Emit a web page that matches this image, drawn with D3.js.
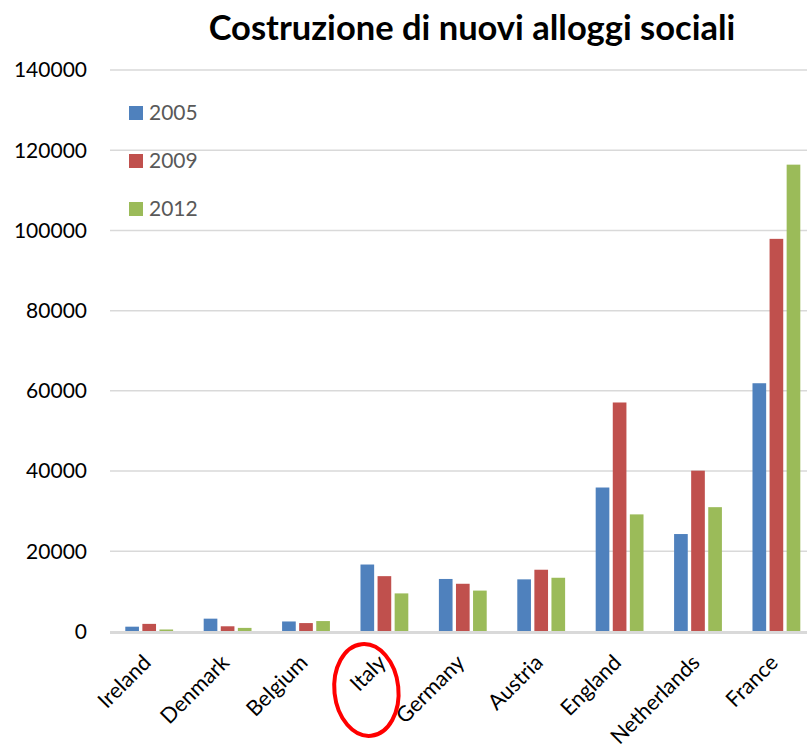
<!DOCTYPE html>
<html><head><meta charset="utf-8">
<script src="https://cdn.jsdelivr.net/npm/d3@7"></script>
<style>body{margin:0;background:#fff}svg{display:block}</style>
</head><body><svg id="c" width="807" height="748"></svg>
<script>
const categories = ["Ireland","Denmark","Belgium","Italy","Germany","Austria","England","Netherlands","France"];
const seriesNames = ["2005","2009","2012"];
const v2005 = [1200, 3200, 2500, 16700, 13100, 13000, 35900, 24300, 61900];
const v2009 = [1900, 1300, 2100, 13800, 11900, 15400, 57100, 40100, 97900];
const v2012 = [500, 900, 2600, 9500, 10200, 13400, 29200, 31000, 116400];
const yTicks = [0, 20000, 40000, 60000, 80000, 100000, 120000, 140000];
const colors = ["#4F81BD", "#C0504D", "#9BBB59"];
const title = "Costruzione di nuovi alloggi sociali";
const highlighted = "Italy";

const series = [v2005, v2009, v2012];
const svg = d3.select("#c");
const font = "Lato, 'Open Sans', sans-serif";

const x0 = d3.scaleBand().domain(categories).range([110, 815.6]).paddingInner(0.39).paddingOuter(0.195);
const x1 = d3.scaleBand().domain(seriesNames).range([0, x0.bandwidth()]).paddingInner(0.2);
const y = d3.scaleLinear().domain([0, 140000]).range([631.5, 70]);

// gridlines
svg.append("g").selectAll("line").data(yTicks.filter(d => d > 0)).join("line")
  .attr("x1", 110).attr("x2", 807).attr("y1", d => y(d)).attr("y2", d => y(d))
  .attr("stroke", "#d9d9d9").attr("stroke-width", 1.5);

// y labels
svg.append("g").selectAll("text").data(yTicks).join("text")
  .attr("x", 87).attr("y", d => y(d)).attr("dy", "0.35em")
  .attr("text-anchor", "end").attr("font-family", font).attr("font-size", 21)
  .attr("fill", "#000").text(d => d);

// bars
const groups = svg.append("g").selectAll("g").data(categories).join("g")
  .attr("transform", d => `translate(${x0(d)},0)`);
groups.selectAll("rect").data((d, i) => seriesNames.map((s, j) => ({s, v: series[j][i], j})))
  .join("rect")
  .attr("x", d => x1(d.s)).attr("width", x1.bandwidth())
  .attr("y", d => y(d.v)).attr("height", d => y(0) - y(d.v))
  .attr("fill", d => colors[d.j]);

// baseline
svg.append("line").attr("x1", 110).attr("x2", 807).attr("y1", y(0) + 1).attr("y2", y(0) + 1)
  .attr("stroke", "#d9d9d9").attr("stroke-width", 3);

// x labels
svg.append("g").selectAll("text").data(categories).join("text")
  .attr("transform", d => `translate(${x0(d) + x0.bandwidth() / 2 + 3},${664}) rotate(-45)`)
  .attr("text-anchor", "end").attr("font-family", font).attr("font-size", 21.5)
  .attr("fill", "#000").text(d => d);

// legend
const lg = svg.append("g").selectAll("g").data(seriesNames).join("g")
  .attr("transform", (d, i) => `translate(129,${113 + i * 48})`);
lg.append("rect").attr("x", 0).attr("y", -7).attr("width", 14).attr("height", 14).attr("fill", (d, i) => colors[i]);
lg.append("text").attr("x", 20).attr("y", 0).attr("dy", "0.35em")
  .attr("font-family", font).attr("font-size", 21).attr("fill", "#595959").text(d => d);

// title
svg.append("text").attr("x", 472).attr("y", 40).attr("text-anchor", "middle")
  .attr("font-family", font).attr("font-weight", "bold").attr("font-size", 34.5)
  .attr("fill", "#000").text(title);

// highlight ellipse
const ex = x0(highlighted) + x0.bandwidth() / 2 - 18;
svg.append("ellipse")
  .attr("cx", ex).attr("cy", 690)
  .attr("rx", 32).attr("ry", 46)
  .attr("transform", `rotate(-6,${ex},690)`)
  .attr("fill", "none").attr("stroke", "#FF0000").attr("stroke-width", 4);
</script></body></html>
